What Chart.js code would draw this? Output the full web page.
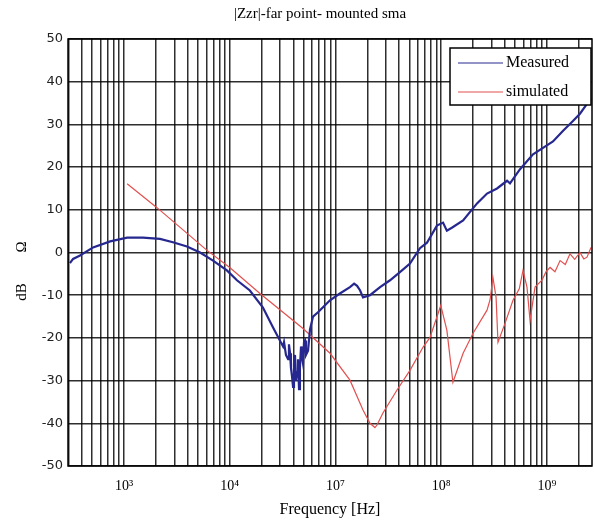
<!DOCTYPE html>
<html>
<head>
<meta charset="utf-8">
<script src="https://cdn.jsdelivr.net/npm/chart.js@4.4.0/dist/chart.umd.min.js"></script>
<style>
  html, body { margin: 0; padding: 0; background: #fff; }
  #wrap { width: 594px; height: 525px; }
</style>
</head>
<body>
<div id="wrap"><canvas id="zChart"></canvas></div>
<script>
const chartTitle = '|Zzr|-far point- mounted sma';
const seriesNames = ['Measured', 'simulated'];

// frequency [Hz] and magnitude [dB Ohm]
const measuredFreq = [3.08e4, 3.3e4, 3.84e4, 5.1e4, 7.4e4, 1.07e5, 1.51e5, 2.19e5, 2.9e5, 3.94e5,
  5.24e5, 6.95e5, 9.4e5, 1.17e6, 1.55e6, 2.06e6, 2.56e6, 3.19e6, 3.26e6, 3.4e6,
  3.56e6, 3.63e6, 3.72e6, 3.79e6, 3.88e6, 3.97e6, 4.05e6, 4.14e6, 4.23e6, 4.33e6,
  4.42e6, 4.52e6, 4.61e6, 4.72e6, 4.82e6, 4.93e6, 5.04e6, 5.15e6, 5.26e6, 5.5e6,
  5.74e6, 6.13e6, 6.83e6, 7.62e6, 8.87e6, 1.1e7, 1.37e7, 1.5e7, 1.6e7, 1.71e7,
  1.82e7, 2.12e7, 2.64e7, 3.28e7, 4.07e7, 5.06e7, 6.29e7, 7.33e7, 9.1e7, 1.04e8,
  1.13e8, 1.26e8, 1.61e8, 2.18e8, 2.71e8, 3.37e8, 4.19e8, 4.47e8, 5.56e8, 7.38e8,
  9.17e8, 1.14e9, 1.42e9, 1.76e9, 2.05e9, 2.39e9, 2.61e9];
const measuredDb = [-2.5, -1.5, -0.7, 1.2, 2.6, 3.5, 3.5, 3.2, 2.4, 1.4,
  0, -1.9, -4.2, -6.5, -8.9, -12.9, -17.5, -22, -21, -24,
  -25, -21.5, -23.6, -27, -29, -31.5, -26, -24, -30, -28,
  -25, -32, -27, -22, -24.5, -26, -21, -20.6, -24, -23,
  -18, -15, -14, -12.8, -11.2, -9.6, -8.1, -7.3, -7.8, -8.9,
  -10.5, -10, -8.1, -6.5, -4.6, -2.6, 1.0, 2.3, 6.3, 7,
  5.1, 5.8, 7.5, 11.5, 13.8, 15, 16.8, 16.2, 19.5, 23,
  24.5, 26, 28.5, 30.8, 32.5, 34.8, 36];

const simulatedFreq = [1.07e5, 2.05e5, 6.1e5, 1.0e6, 1.93e6, 4.93e6, 8.87e6, 1.37e7, 1.82e7, 2.12e7,
  2.36e7, 2.47e7, 2.81e7, 3.82e7, 5.06e7, 6.72e7, 7.83e7, 9.9e7, 1.13e8, 1.29e8,
  1.61e8, 2.0e8, 2.71e8, 2.9e8, 3.08e8, 3.3e8, 3.44e8, 4.01e8, 4.77e8, 5.47e8,
  5.93e8, 6.47e8, 6.91e8, 7.71e8, 8.97e8, 9.8e8, 1.07e9, 1.19e9, 1.33e9, 1.49e9,
  1.65e9, 1.83e9, 2.05e9, 2.23e9, 2.39e9, 2.61e9];
const simulatedDb = [16.1, 10.5, 0.5, -3.5, -9.6, -17.8, -23.6, -29.9, -36.9, -40,
  -41, -40.4, -37.6, -32.2, -27.6, -22.2, -19.9, -12.4, -18.2, -30.4,
  -23.6, -18.9, -13.5, -11, -5.8, -10.5, -21, -16.6, -11.2, -8.5,
  -4.2, -8.1, -15.9, -8.1, -6.5, -4.5, -3.5, -4.5, -1.9, -2.8,
  -0.3, -1.6, 0, -1.5, -1.1, 1.2];

// axis ticks as printed on the figure
const xDecades = [1e5, 1e6, 1e7, 1e8, 1e9];
const xTickLabels = ['10³', '10⁴', '10⁷', '10⁸', '10⁹'];
const yTicks = [50, 40, 30, 20, 10, 0, -10, -20, -30, -40, -50];

const xMin = 2.954e4, xMax = 2.665e9;

const toPoints = (fs, vs) => fs.map((f, i) => ({x: f, y: vs[i]}));

// title, y label, frame and the boxed legend
const annotate = {
  id: 'annotate',
  afterDraw(chart) {
    const {ctx, chartArea: a} = chart;
    ctx.save();
    ctx.fillStyle = '#000';
    ctx.textAlign = 'center';
    ctx.textBaseline = 'middle';
    ctx.font = '15px "Liberation Serif"';
    ctx.fillText(chartTitle, 320, 14);

    ctx.save();
    ctx.translate(22, 270);
    ctx.rotate(-Math.PI / 2);
    ctx.font = '15px "Liberation Serif"';
    ctx.fillText('dB', -22, 0);
    ctx.fillText('Ω', 23, 0);
    ctx.restore();

    ctx.strokeStyle = '#000';
    ctx.lineWidth = 1.5;
    ctx.strokeRect(a.left, a.top, a.right - a.left, a.bottom - a.top);

    // legend
    const bx = 450, by = 48, bw = 141, bh = 57;
    ctx.fillStyle = '#fff';
    ctx.fillRect(bx, by, bw, bh);
    ctx.strokeRect(bx, by, bw, bh);
    ctx.textAlign = 'left';
    ctx.font = '16px "Liberation Serif"';
    chart.data.datasets.forEach((ds, i) => {
      const ly = by + 15 + i * 29;
      ctx.strokeStyle = ds.borderColor;
      ctx.lineWidth = 1.2;
      ctx.beginPath();
      ctx.moveTo(bx + 8, ly);
      ctx.lineTo(bx + 53, ly);
      ctx.stroke();
      ctx.fillStyle = '#000';
      ctx.fillText(ds.label, bx + 56, ly);
    });
    ctx.restore();
  }
};

var ctx = document.getElementById('zChart');
var zChart = new Chart(ctx, {
  type: 'scatter',
  data: {
    datasets: [
      {
        label: seriesNames[0],
        data: toPoints(measuredFreq, measuredDb),
        showLine: true,
        borderColor: '#26288f',
        borderWidth: 2.2,
        pointRadius: 0,
        tension: 0
      },
      {
        label: seriesNames[1],
        data: toPoints(simulatedFreq, simulatedDb),
        showLine: true,
        borderColor: '#e2504f',
        borderWidth: 1.2,
        pointRadius: 0,
        tension: 0
      }
    ]
  },
  options: {
    responsive: true,
    maintainAspectRatio: false,
    animation: false,
    layout: { padding: { top: 39, right: 2, left: 0, bottom: 0 } },
    plugins: {
      legend: { display: false },
      title: { display: false },
      tooltip: { enabled: false }
    },
    scales: {
      x: {
        type: 'logarithmic',
        min: xMin,
        max: xMax,
        afterBuildTicks: function (scale) {
          const ticks = [];
          for (let e = 4; e <= 9; e++) {
            for (let k = 1; k <= 9; k++) {
              const v = k * Math.pow(10, e);
              if (v > xMin && v < xMax) ticks.push({ value: v });
            }
          }
          scale.ticks = ticks;
        },
        afterFit: function (scale) { scale.height = 59; },
        ticks: {
          autoSkip: false,
          maxRotation: 0,
          padding: 12,
          color: '#000',
          font: { family: '"Liberation Serif"', size: 14 },
          callback: function (value) {
            const i = xDecades.findIndex(d => Math.abs(Math.log10(d) - Math.log10(value)) < 1e-6);
            return i >= 0 ? xTickLabels[i] : '';
          }
        },
        grid: {
          color: 'rgba(0,0,0,0.82)',
          lineWidth: 1.5,
          drawTicks: false
        },
        border: { display: false },
        title: {
          display: true,
          text: 'Frequency [Hz]',
          color: '#000',
          font: { family: '"Liberation Serif"', size: 16 },
          padding: { top: 0, bottom: 6 }
        }
      },
      y: {
        min: -50,
        max: 50,
        afterBuildTicks: function (scale) {
          scale.ticks = yTicks.map(v => ({ value: v }));
        },
        afterFit: function (scale) { scale.width = 68; },
        ticks: {
          padding: 5,
          color: '#222',
          font: { family: '"DejaVu Sans"', size: 13 }
        },
        grid: {
          color: 'rgba(0,0,0,0.82)',
          lineWidth: 1.5,
          drawTicks: false
        },
        border: { display: false }
      }
    }
  },
  plugins: [annotate]
});
</script>
</body>
</html>
